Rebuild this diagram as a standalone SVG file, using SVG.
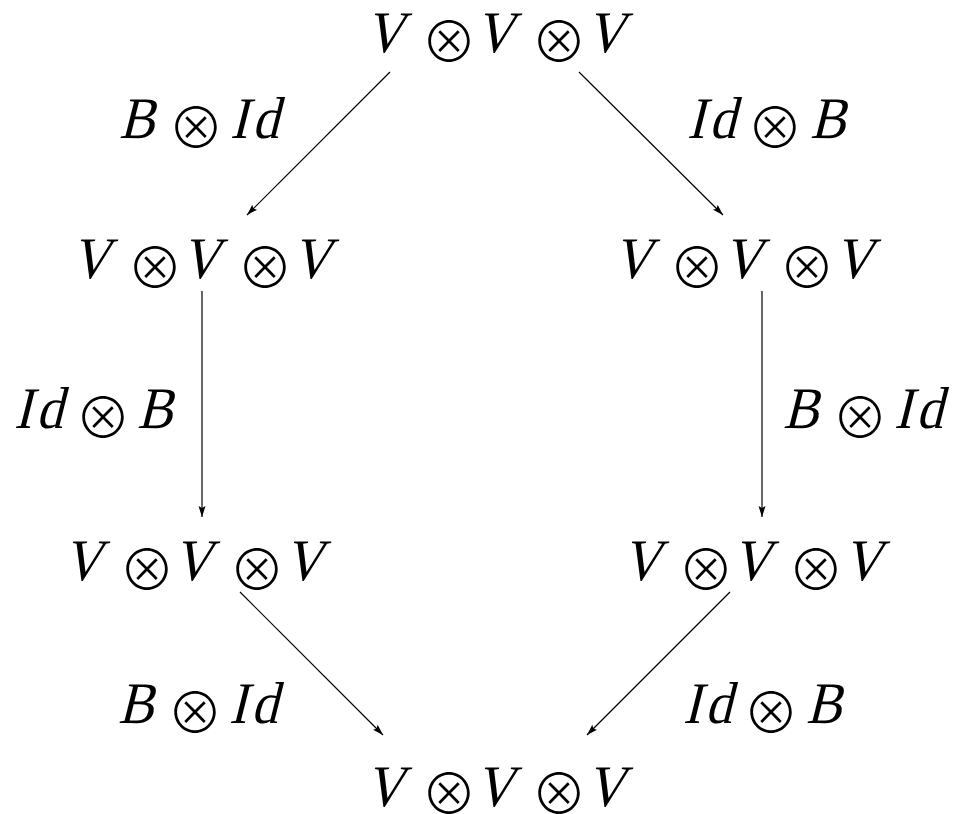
<svg xmlns="http://www.w3.org/2000/svg" width="957" height="814" viewBox="0 0 957 814">
<defs>
<style>
.v{font-size:59px;fill:#000}
.op{font-family:'Noto Sans CJK JP','DejaVu Sans',sans-serif;font-weight:300;font-size:56px;text-anchor:middle;fill:#000}
.edge{stroke:#000;stroke-width:1.2;fill:none;marker-end:url(#arr)}
</style>
<marker id="arr" markerUnits="userSpaceOnUse" markerWidth="12" markerHeight="8" refX="11" refY="4" orient="auto">
<path d="M0,0.5 L11,4 L0,7.5 L2,4 z" fill="#000"/>
</marker>
</defs>
<rect width="957" height="814" fill="#fff"/>
<g id="connectors">
<line class="edge" x1="390" y1="72" x2="247" y2="215"/>
<line class="edge" x1="579" y1="72" x2="723" y2="215"/>
<line class="edge" x1="202" y1="291" x2="202" y2="517"/>
<line class="edge" x1="762" y1="291" x2="762" y2="517"/>
<line class="edge" x1="240" y1="592" x2="383" y2="735"/>
<line class="edge" x1="730" y1="592" x2="587" y2="735"/>
<g id="label-tl" font-family="Liberation Serif"><text class="v" transform="translate(119,138) skewX(-14) scale(0.9,1)">B</text><text class="op" x="196" y="148">⊗</text><text class="v" transform="translate(230,138) skewX(-14) scale(0.9,1)">I</text><text class="v" transform="translate(252,138) skewX(-14) scale(0.9,1)">d</text></g>
<g id="label-tr" font-family="Liberation Serif"><text class="v" transform="translate(687,138) skewX(-14) scale(0.9,1)">I</text><text class="v" transform="translate(709,138) skewX(-14) scale(0.9,1)">d</text><text class="op" x="775" y="148">⊗</text><text class="v" transform="translate(810,138) skewX(-14) scale(0.9,1)">B</text></g>
<g id="label-ml" font-family="Liberation Serif"><text class="v" transform="translate(14,428) skewX(-14) scale(0.9,1)">I</text><text class="v" transform="translate(36,428) skewX(-14) scale(0.9,1)">d</text><text class="op" x="103" y="438">⊗</text><text class="v" transform="translate(137,428) skewX(-14) scale(0.9,1)">B</text></g>
<g id="label-mr" font-family="Liberation Serif"><text class="v" transform="translate(783,428) skewX(-14) scale(0.9,1)">B</text><text class="op" x="860" y="438">⊗</text><text class="v" transform="translate(894,428) skewX(-14) scale(0.9,1)">I</text><text class="v" transform="translate(916,428) skewX(-14) scale(0.9,1)">d</text></g>
<g id="label-bl" font-family="Liberation Serif"><text class="v" transform="translate(118,723) skewX(-14) scale(0.9,1)">B</text><text class="op" x="195" y="733">⊗</text><text class="v" transform="translate(229,723) skewX(-14) scale(0.9,1)">I</text><text class="v" transform="translate(251,723) skewX(-14) scale(0.9,1)">d</text></g>
<g id="label-br" font-family="Liberation Serif"><text class="v" transform="translate(683,723) skewX(-14) scale(0.9,1)">I</text><text class="v" transform="translate(705,723) skewX(-14) scale(0.9,1)">d</text><text class="op" x="771" y="733">⊗</text><text class="v" transform="translate(806,723) skewX(-14) scale(0.9,1)">B</text></g>
</g>
<g id="node-top" font-family="Liberation Serif"><text class="v" transform="translate(365,52) skewX(-14) scale(0.9,1)">V</text><text class="op" x="449" y="62">⊗</text><text class="v" transform="translate(475,52) skewX(-14) scale(0.9,1)">V</text><text class="op" x="559" y="62">⊗</text><text class="v" transform="translate(586,52) skewX(-14) scale(0.9,1)">V</text></g>
<g id="node-left2" font-family="Liberation Serif"><text class="v" transform="translate(71,278) skewX(-14) scale(0.9,1)">V</text><text class="op" x="155" y="288">⊗</text><text class="v" transform="translate(181,278) skewX(-14) scale(0.9,1)">V</text><text class="op" x="265" y="288">⊗</text><text class="v" transform="translate(292,278) skewX(-14) scale(0.9,1)">V</text></g>
<g id="node-right2" font-family="Liberation Serif"><text class="v" transform="translate(613,278) skewX(-14) scale(0.9,1)">V</text><text class="op" x="697" y="288">⊗</text><text class="v" transform="translate(723,278) skewX(-14) scale(0.9,1)">V</text><text class="op" x="807" y="288">⊗</text><text class="v" transform="translate(834,278) skewX(-14) scale(0.9,1)">V</text></g>
<g id="node-left3" font-family="Liberation Serif"><text class="v" transform="translate(63,580) skewX(-14) scale(0.9,1)">V</text><text class="op" x="147" y="590">⊗</text><text class="v" transform="translate(173,580) skewX(-14) scale(0.9,1)">V</text><text class="op" x="257" y="590">⊗</text><text class="v" transform="translate(284,580) skewX(-14) scale(0.9,1)">V</text></g>
<g id="node-right3" font-family="Liberation Serif"><text class="v" transform="translate(622,580) skewX(-14) scale(0.9,1)">V</text><text class="op" x="706" y="590">⊗</text><text class="v" transform="translate(732,580) skewX(-14) scale(0.9,1)">V</text><text class="op" x="816" y="590">⊗</text><text class="v" transform="translate(843,580) skewX(-14) scale(0.9,1)">V</text></g>
<g id="node-bottom" font-family="Liberation Serif"><text class="v" transform="translate(365,806) skewX(-14) scale(0.9,1)">V</text><text class="op" x="449" y="814">⊗</text><text class="v" transform="translate(475,806) skewX(-14) scale(0.9,1)">V</text><text class="op" x="559" y="814">⊗</text><text class="v" transform="translate(586,806) skewX(-14) scale(0.9,1)">V</text></g>
</svg>
